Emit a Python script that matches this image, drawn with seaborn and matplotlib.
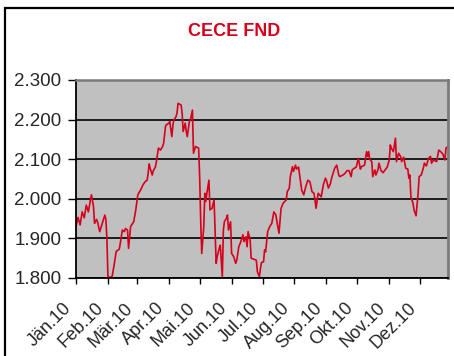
import pandas as pd
import matplotlib
matplotlib.use("Agg")
import matplotlib.pyplot as plt
from matplotlib.patches import Rectangle
from matplotlib.ticker import FuncFormatter
from matplotlib.transforms import ScaledTranslation
import seaborn as sns

title = "CECE FND"

# trading days, counted in days since 1 Jan 2010
day_of_year = [
    0, 2, 4, 6, 8, 10, 12, 14, 15, 17, 18, 20, 21, 23, 26, 28, 29, 30, 31, 35,
    37, 39, 42, 43, 45, 47, 48, 50, 51, 53, 56, 58, 60, 63, 65, 67, 69, 70, 71, 72,
    74, 75, 77, 78, 80, 82, 84, 85, 87, 90, 91, 93, 94, 95, 97, 98, 99, 102, 103, 104,
    106, 107, 108, 110, 111, 113, 114, 116, 119, 120, 121, 122, 124, 125, 126, 127, 129, 130, 132, 134,
    136, 137, 139, 140, 142, 143, 144, 146, 147, 148, 150, 151, 153, 155, 156, 158, 160, 162, 163, 165,
    166, 167, 169, 170, 173, 175, 176, 178, 179, 180, 182, 183, 184, 186, 188, 190, 192, 194, 195, 197,
    199, 201, 204, 205, 207, 208, 210, 211, 213, 214, 216, 217, 219, 221, 223, 225, 227, 229, 231, 233,
    235, 238, 240, 242, 243, 245, 247, 248, 251, 253, 255, 256, 259, 261, 263, 265, 267, 268, 270, 272,
    274, 276, 277, 280, 282, 283, 284, 285, 287, 288, 290, 291, 293, 294, 296, 298, 300, 302, 304, 305,
    306, 308, 310, 311, 313, 315, 316, 318, 320, 322, 323, 324, 325, 327, 328, 330, 332, 333, 335, 337,
    338, 340, 342, 344, 345, 347, 350, 352, 354, 356, 358, 359, 361,
]

# index level in points
index_points = [
    1930, 1953, 1934, 1967, 1952, 1984, 1967, 1997, 2010, 1980, 1938, 1948, 1941, 1917, 1942, 1959, 1948, 1900, 1801, 1803,
    1833, 1867, 1873, 1888, 1921, 1917, 1925, 1921, 1875, 1930, 1942, 1972, 2010, 2024, 2035, 2043, 2047, 2064, 2088, 2077,
    2060, 2071, 2080, 2094, 2128, 2123, 2132, 2140, 2185, 2191, 2195, 2157, 2186, 2199, 2207, 2216, 2241, 2237, 2216, 2170,
    2191, 2170, 2157, 2195, 2199, 2224, 2115, 2132, 2128, 2056, 1946, 1862, 1930, 2014, 1993, 2014, 2047, 1972, 1976, 1997,
    1837, 1854, 1875, 1883, 1803, 1921, 1942, 1951, 1959, 1921, 1942, 1862, 1854, 1837, 1845, 1879, 1892, 1909, 1892, 1904,
    1879, 1917, 1896, 1850, 1847, 1845, 1816, 1803, 1824, 1839, 1841, 1871, 1866, 1917, 1930, 1938, 1967, 1959, 1942, 1913,
    1976, 1989, 1997, 2018, 2027, 2056, 2081, 2069, 2085, 2075, 2080, 2060, 2022, 2010, 2031, 2047, 2043, 2018, 2014, 1976,
    2014, 2005, 2035, 2052, 2047, 2027, 2039, 2052, 2077, 2085, 2060, 2056, 2060, 2064, 2071, 2071, 2056, 2073, 2077, 2080,
    2102, 2075, 2081, 2085, 2119, 2107, 2119, 2100, 2094, 2056, 2073, 2060, 2073, 2090, 2071, 2066, 2073, 2080, 2098, 2136,
    2128, 2119, 2153, 2094, 2115, 2107, 2094, 2105, 2077, 2075, 2052, 2060, 2005, 1989, 1972, 1957, 2014, 2056, 2060, 2077,
    2090, 2083, 2102, 2107, 2090, 2098, 2094, 2123, 2119, 2113, 2098, 2128, 2132,
]

month_labels = ["Jän.10", "Feb.10", "Mär.10", "Apr.10", "Mai.10", "Jun.10",
                "Jul.10", "Aug.10", "Sep.10", "Okt.10", "Nov.10", "Dez.10"]
y_ticks = [1800, 1900, 2000, 2100, 2200, 2300]

RED = "#D6001C"

sns.set_style("white")
plt.rcParams["font.family"] = ["Liberation Sans", "DejaVu Sans"]

start = pd.Timestamp("2010-01-01")
df = pd.DataFrame({
    "Datum": start + pd.to_timedelta(day_of_year, unit="D"),
    "Index": index_points,
})

fig = plt.figure(figsize=(4.54, 3.56), dpi=100)
fig.patch.set_facecolor("white")

# chart frame
fig.add_artist(Rectangle((5 / 454, -0.1), 1.2, 1.1 - 8 / 356,
                         transform=fig.transFigure, fill=False,
                         edgecolor="black", linewidth=1.6))

fig.text(234 / 454, 1 - 32 / 356, title, ha="center", va="center",
         color=RED, fontsize=13, fontweight="bold")

ax = fig.add_axes([76 / 454, 1 - 278 / 356, 372 / 454, 198 / 356])
ax.set_facecolor("#C0C0C0")
ax.set_axisbelow(True)
ax.grid(axis="y", color="black", linewidth=1.2)
ax.grid(axis="x", visible=False)

sns.lineplot(data=df, x="Datum", y="Index", ax=ax, color=RED, linewidth=1.2)

ax.set_xlim(start, start + pd.Timedelta(days=361))
ax.set_ylim(y_ticks[0], y_ticks[-1])
ax.set_xlabel("")
ax.set_ylabel("")

month_starts = pd.date_range(start, periods=len(month_labels), freq="MS")
ax.set_xticks(month_starts)
ax.set_xticklabels(month_labels, rotation=45, ha="right", va="center",
                   rotation_mode="anchor", fontsize=13)
ax.set_yticks(y_ticks)
ax.yaxis.set_major_formatter(FuncFormatter(lambda v, _: f"{int(v):,}".replace(",", ".")))
ax.tick_params(axis="y", labelsize=13.5, direction="out", length=5.5, width=1,
               color="black", pad=5, left=True)
ax.tick_params(axis="x", direction="out", length=4, width=1, color="black",
               pad=0, bottom=True)

shift = ScaledTranslation(-0.07, -0.22, fig.dpi_scale_trans)
for lbl in ax.get_xticklabels():
    lbl.set_transform(lbl.get_transform() + shift)

for side in ("left", "bottom"):
    ax.spines[side].set_color("black")
    ax.spines[side].set_linewidth(1.3)
ax.spines["top"].set_color("#7A7A7A")
ax.spines["top"].set_linewidth(1.8)
ax.spines["right"].set_color("#7A7A7A")
ax.spines["right"].set_linewidth(2.0)

fig.savefig("out.png", dpi=100, facecolor="white")
